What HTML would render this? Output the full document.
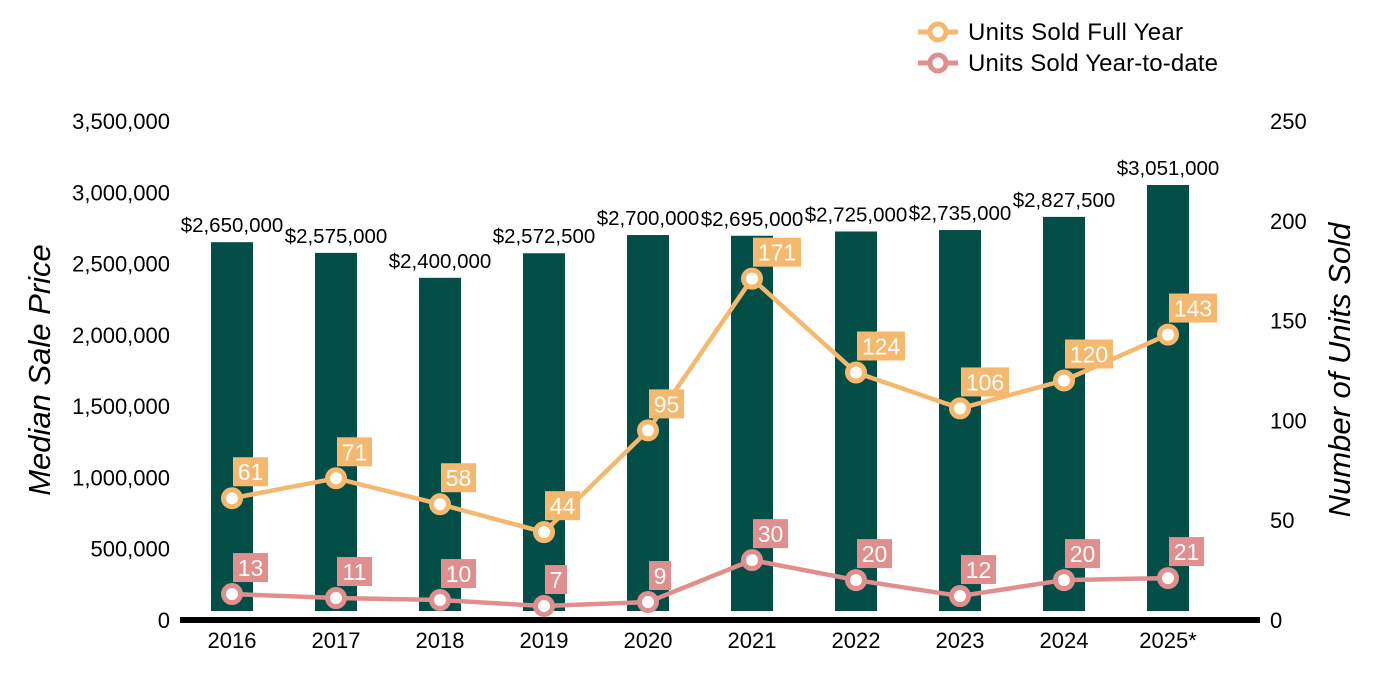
<!DOCTYPE html>
<html><head><meta charset="utf-8"><style>
html,body{margin:0;padding:0;background:#fff;}
svg{display:block;font-family:"Liberation Sans",Arial,sans-serif;}
</style></head><body>
<svg id="chart" width="1400" height="700" viewBox="0 0 1400 700" xmlns="http://www.w3.org/2000/svg">
<g id="left-axis"></g>
<g id="right-axis"></g>
<g id="bars"></g>
<g id="lines"></g>
<g id="xaxis"></g>
<text transform="translate(50,370) rotate(-90)" text-anchor="middle" font-size="31" font-style="italic" fill="#000">Median Sale Price</text>
<text transform="translate(1350,370) rotate(-90)" text-anchor="middle" font-size="31" font-style="italic" fill="#000">Number of Units Sold</text>
<g>
  <g>
    <line x1="918" y1="32" x2="958" y2="32" stroke="#f5b86f" stroke-width="5"/>
    <circle cx="938" cy="32" r="8" fill="#fff" stroke="#f5b86f" stroke-width="5"/>
    <text x="968" y="40" font-size="24" fill="#000" textLength="215">Units Sold Full Year</text>
  </g>
  <g>
    <line x1="918" y1="63" x2="958" y2="63" stroke="#e08e8e" stroke-width="5"/>
    <circle cx="938" cy="63" r="8" fill="#fff" stroke="#e08e8e" stroke-width="5"/>
    <text x="968" y="71" font-size="24" fill="#000" textLength="250">Units Sold Year-to-date</text>
  </g>
</g>
</svg>
<script>
const categories = ["2016","2017","2018","2019","2020","2021","2022","2023","2024","2025*"];
const prices = [2650000,2575000,2400000,2572500,2700000,2695000,2725000,2735000,2827500,3051000];
const fullYear = [61,71,58,44,95,171,124,106,120,143];
const ytd = [13,11,10,7,9,30,20,12,20,21];
const leftTicks = [0,500000,1000000,1500000,2000000,2500000,3000000,3500000];
const rightTicks = [0,50,100,150,200,250];

const NS="http://www.w3.org/2000/svg";
const y0=620, yTop=121;
const yL=v=>y0-(v/3500000)*(y0-yTop);
const yR=v=>y0-(v/250)*(y0-yTop);
const xC=i=>232+i*104;
function mk(tag,attrs,parent,text){const e=document.createElementNS(NS,tag);for(const k in attrs)e.setAttribute(k,attrs[k]);if(text!==undefined)e.textContent=text;parent.appendChild(e);return e;}
const fmt=n=>n.toLocaleString('en-US');

const la=document.getElementById('left-axis');
leftTicks.forEach(t=>{const e=mk('text',{x:170,y:yL(t)+8,'text-anchor':'end','font-size':22,fill:'#000'},la,fmt(t));

});
const ra=document.getElementById('right-axis');
rightTicks.forEach(t=>{const e=mk('text',{x:1270,y:yR(t)+8,'font-size':22,fill:'#000'},ra,String(t));

});

const bars=document.getElementById('bars');
prices.forEach((p,i)=>{const top=yL(p);
const r=mk('rect',{x:xC(i)-21,y:top,width:42,height:611-top,fill:'#034e46'},bars);


const t=mk('text',{x:xC(i),y:top-10,'text-anchor':'middle','font-size':20.5,fill:'#000'},bars,'$'+fmt(p));

});

const xa=document.getElementById('xaxis');
const ax=mk('rect',{x:180,y:617,width:1080,height:6,fill:'#000'},xa);


categories.forEach((c,i)=>{const t=mk('text',{x:xC(i),y:648,'text-anchor':'middle','font-size':22,fill:'#000'},xa,c);

});

const lines=document.getElementById('lines');
function series(vals,color,name){
  const pts=vals.map((v,i)=>xC(i)+','+yR(v)).join(' ');
  const pl=mk('polyline',{points:pts,fill:'none',stroke:color,'stroke-width':4.5,'stroke-linejoin':'round'},lines);
  
  
  vals.forEach((v,i)=>{const cx=xC(i),cy=yR(v);
    const c=mk('circle',{cx:cx,cy:cy,r:8.5,fill:'#fff',stroke:color,'stroke-width':5},lines);
    
    
    const s=String(v);const w=s.length*13+9;
    const b=mk('rect',{x:cx+1,y:cy-41,width:w,height:29,fill:color},lines);
    
    
    const t=mk('text',{x:cx+1+w/2,y:cy-18,'text-anchor':'middle','font-size':23,fill:'#fff'},lines,s);
    
    
  });
}
series(fullYear,'#f5b86f','full-year');
series(ytd,'#e08e8e','ytd');
</script>
</body></html>
